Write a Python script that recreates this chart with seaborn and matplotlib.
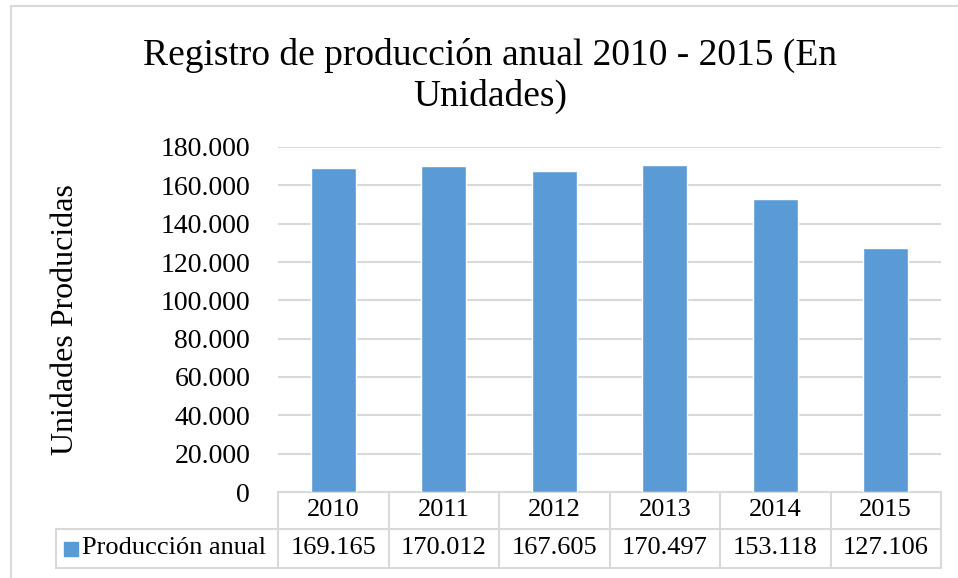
import matplotlib
matplotlib.use("Agg")
import matplotlib.pyplot as plt
from matplotlib.patches import Rectangle
from matplotlib.lines import Line2D
import seaborn as sns
import pandas as pd

# Datos del gráfico
anios = ["2010", "2011", "2012", "2013", "2014", "2015"]
produccion = [169165, 170012, 167605, 170497, 153118, 127106]
serie = "Producción anual"
titulo = "Registro de producción anual 2010 - 2015 (En\nUnidades)"
eje_y = "Unidades Producidas"

AZUL = "#5B9BD5"
GRIS = "#D9D9D9"

sns.set_style("white")
plt.rcParams["font.family"] = ["Liberation Serif", "DejaVu Serif"]
plt.rcParams["text.color"] = "black"
plt.rcParams["ytick.color"] = "black"


def miles(v):
    # formato con punto de miles
    return "0" if v == 0 else f"{int(v):,}".replace(",", ".")


df = pd.DataFrame({"anio": anios, "valor": produccion})

W, H = 958, 578
fig = plt.figure(figsize=(W / 100, H / 100), dpi=100)
x0, x1, y0, y1 = 278, 941, 147, 492
ax = fig.add_axes([x0 / W, 1 - y1 / H, (x1 - x0) / W, (y1 - y0) / H])

sns.barplot(data=df, x="anio", y="valor", color=AZUL, width=0.41,
            saturation=1, ax=ax, zorder=3)
ax.set_xlim(-0.5, len(anios) - 0.5)
ax.set_ylim(0, 180000)
ticks = list(range(0, 180001, 20000))
ax.set_yticks(ticks)
ax.set_yticklabels([miles(t) for t in ticks], fontsize=20)
ax.tick_params(axis="y", length=0, pad=20)
ax.set_xticks([])
ax.set_xlabel("")
ax.set_ylabel("")
for s in ax.spines.values():
    s.set_visible(False)
for t in ticks[1:]:
    ax.axhline(t, color=GRIS, lw=1.5, zorder=1)

# Tabla de datos debajo del eje
fila1_top, fila1_bot, fila2_bot = 0.0, -37 / 345, -76 / 345
leg_left = (56 - x0) / (x1 - x0)
kw = dict(color=GRIS, lw=1.5, clip_on=False, zorder=1)
trans = ax.get_xaxis_transform()
ax.add_line(Line2D([-0.5, len(anios) - 0.5], [fila1_top, fila1_top], transform=trans, **kw))
ax.add_line(Line2D([leg_left, 1], [fila1_bot, fila1_bot], transform=ax.transAxes, **kw))
ax.add_line(Line2D([leg_left, 1], [fila2_bot, fila2_bot], transform=ax.transAxes, **kw))
ax.add_line(Line2D([leg_left, leg_left], [fila1_bot, fila2_bot], transform=ax.transAxes, **kw))
for i in range(len(anios) + 1):
    ax.add_line(Line2D([i - 0.5, i - 0.5], [fila1_top, fila2_bot], transform=trans, **kw))
for i, (a, v) in enumerate(zip(anios, produccion)):
    ax.text(i, (fila1_top + fila1_bot) / 2, a, transform=trans, ha="center",
            va="center", fontsize=19)
    ax.text(i, (fila1_bot + fila2_bot) / 2, miles(v), transform=trans,
            ha="center", va="center", fontsize=19)

ym = (fila1_bot + fila2_bot) / 2
ax.add_patch(Rectangle(((64 - x0) / (x1 - x0), ym - 7 / 345), 14 / (x1 - x0), 14 / 345,
                       transform=ax.transAxes, color=AZUL, clip_on=False))
ax.text((82 - x0) / (x1 - x0), ym, serie, transform=ax.transAxes, ha="left",
        va="center", fontsize=19)

fig.text(490 / W, 1 - 76 / H, titulo, ha="center", va="center", fontsize=27,
         linespacing=1.2)
fig.text(66 / W, 1 - 320 / H, eje_y, rotation=90, ha="center", va="center",
         fontsize=23)

# marco exterior (solo visibles arriba e izquierda)
fig.add_artist(Rectangle((11 / W, -10 / H), (W + 20) / W, (H + 4) / H,
                         transform=fig.transFigure, fill=False, ec=GRIS, lw=1.5))

fig.savefig("out.png", dpi=100)
